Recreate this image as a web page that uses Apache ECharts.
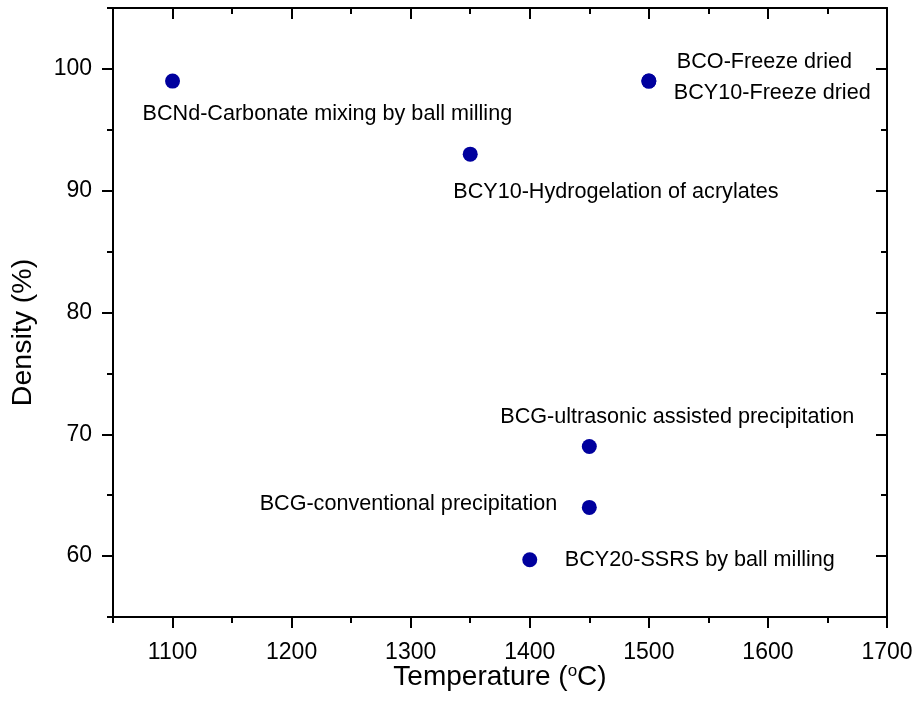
<!DOCTYPE html>
<html>
<head>
<meta charset="utf-8">
<script src="https://cdn.jsdelivr.net/npm/echarts@6/dist/echarts.min.js"></script>
<style>html,body{margin:0;padding:0;background:#fff;}#c{width:920px;height:718px;}</style>
</head>
<body>
<div id="c"></div>
<script>
// ---- data ----
const temperatures = [1100, 1500, 1500, 1350, 1450, 1450, 1400];
const densities = [99, 99, 99, 93, 69, 64, 59.7];
const methods = [
  'BCNd-Carbonate mixing by ball milling',
  'BCO-Freeze dried',
  'BCY10-Freeze dried',
  'BCY10-Hydrogelation of acrylates',
  'BCG-ultrasonic assisted precipitation',
  'BCG-conventional precipitation',
  'BCY20-SSRS by ball milling'
];
const xTickValues = [1100, 1200, 1300, 1400, 1500, 1600, 1700];
const yTickValues = [60, 70, 80, 90, 100];

// ---- label layout (offsets from the marker centre) ----
const labelLayout = [
  {align: 'left', offset: [-30, 33]},
  {align: 'left', offset: [28, -19]},
  {align: 'left', offset: [25, 12]},
  {align: 'left', offset: [-17, 38]},
  {align: 'left', offset: [-89, -29]},
  {align: 'right', offset: [-32, -3]},
  {align: 'left', offset: [35, 0]}
];

const FONT = 'Liberation Sans, Arial, sans-serif';
const BLACK = '#000';
const LABEL_SIZE = 21.6;

const data = temperatures.map((t, i) => ({
  value: [t, densities[i]],
  label: {
    show: true,
    formatter: methods[i],
    position: 'inside',
    align: labelLayout[i].align,
    verticalAlign: 'middle',
    offset: labelLayout[i].offset,
    color: BLACK,
    fontSize: LABEL_SIZE,
    fontFamily: FONT
  }
}));

const plain = v => String(v);

function xAxisDef(pos, major, showLine, withLabels) {
  const inside = pos === 'top';
  const a = {
    type: 'value', position: pos, min: 1050, max: 1700, interval: 50,
    splitLine: {show: false},
    axisLine: {show: showLine, onZero: false, lineStyle: {color: BLACK, width: 2}},
    axisTick: {show: true, inside: inside, length: major ? 11 : 6, lineStyle: {color: BLACK, width: 2}},
    axisLabel: {show: false}
  };
  if (major) a.axisTick.customValues = xTickValues;
  if (withLabels) {
    a.axisLabel = {show: true, customValues: xTickValues, formatter: plain, color: BLACK, fontSize: 23, fontFamily: FONT, margin: 24};
    a.name = 'Temperature ({sup|o}C)';
    a.nameLocation = 'middle';
    a.nameGap = 46;
    a.nameMoveOverlap = false;
    a.nameTextStyle = {color: BLACK, fontSize: 28, fontFamily: FONT,
      rich: {sup: {fontSize: 17, verticalAlign: 'top', padding: [0, 0, 12, 0], color: BLACK, fontFamily: FONT}}};
  }
  return a;
}
function yAxisDef(pos, major, showLine, withLabels) {
  const inside = pos === 'right';
  const a = {
    type: 'value', position: pos, min: 55, max: 105, interval: 5,
    splitLine: {show: false},
    axisLine: {show: showLine, onZero: false, lineStyle: {color: BLACK, width: 2}},
    axisTick: {show: true, inside: inside, length: major ? 11 : 6, lineStyle: {color: BLACK, width: 2}},
    axisLabel: {show: false}
  };
  if (major) a.axisTick.customValues = yTickValues;
  if (withLabels) {
    a.axisLabel = {show: true, customValues: yTickValues, formatter: plain, color: BLACK, fontSize: 23, fontFamily: FONT, margin: 21};
    a.name = 'Density (%)';
    a.nameLocation = 'middle';
    a.nameGap = 75;
    a.nameMoveOverlap = false;
    a.nameTextStyle = {color: BLACK, fontSize: 28.5, fontFamily: FONT, padding: [0, 40, 0, 0]};
  }
  return a;
}

const chart = echarts.init(document.getElementById('c'), null, {renderer: 'canvas'});
chart.setOption({
  backgroundColor: '#fff',
  animation: false,
  grid: {left: 113, right: 33, top: 8, bottom: 101, containLabel: false},
  xAxis: [
    xAxisDef('bottom', true, true, true),
    xAxisDef('bottom', false, false, false),
    xAxisDef('top', true, true, false),
    xAxisDef('top', false, false, false)
  ],
  yAxis: [
    yAxisDef('left', true, true, true),
    yAxisDef('left', false, false, false),
    yAxisDef('right', true, true, false),
    yAxisDef('right', false, false, false)
  ],
  series: [{
    type: 'scatter',
    xAxisIndex: 0,
    yAxisIndex: 0,
    symbol: 'circle',
    symbolSize: 15,
    itemStyle: {color: '#00009E', opacity: 1},
    label: {color: BLACK, fontSize: LABEL_SIZE, fontFamily: FONT},
    emphasis: {disabled: true},
    data: data
  }]
});
</script>
</body>
</html>
